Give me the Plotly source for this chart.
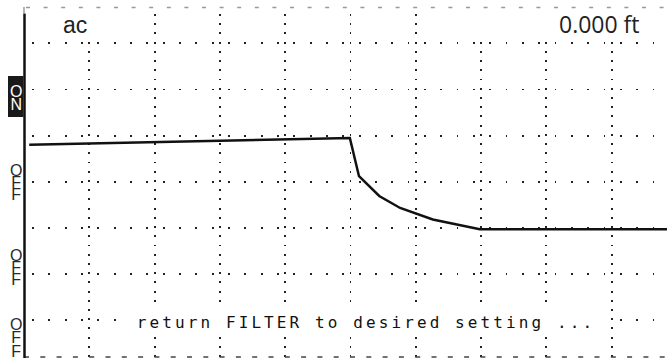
import plotly.graph_objects as go

# ---- data ----
x_div = [0.08, 4.99, 5.13, 5.44, 5.76, 6.26, 6.98, 9.85]
y_div = [3.80, 3.95, 3.12, 2.69, 2.43, 2.18, 1.97, 1.97]
x_grid = [1, 2, 3, 4, 5, 6, 7, 8, 9]
y_grid = [0, 1, 2, 3, 4, 5, 6]
corner_left = "ac"
corner_right = "0.000 ft"
message = "return FILTER to desired setting ..."
side_labels = ["ON", "OFF", "OFF", "OFF"]

# ---- layout geometry (pixels) ----
W, H = 667, 360
L, R, T, B = 24, 0, 7, 2
PW, PH = W - L - R, H - T - B
DIV_X = 65.3
DIV_Y = 46.1
ROW0 = 320.0


def px_x(p):
    return (p - L) / PW


def px_y(p):
    return (H - B - p) / PH


fig = go.Figure()
fig.add_trace(go.Scatter(
    x=x_div, y=y_div, mode="lines",
    line=dict(color="#111111", width=2.5),
    hoverinfo="skip", showlegend=False,
))

shapes = []
# white fields behind the header texts (hide grid there)
shapes.append(dict(type="rect", xref="paper", yref="paper", layer="above",
                   x0=px_x(30), x1=px_x(100), y0=px_y(9.5), y1=px_y(39),
                   line=dict(width=0), fillcolor="#ffffff"))
shapes.append(dict(type="rect", xref="paper", yref="paper", layer="above",
                   x0=px_x(470), x1=1.0, y0=px_y(9.5), y1=px_y(39),
                   line=dict(width=0), fillcolor="#ffffff"))
# top dashed border
shapes.append(dict(type="line", xref="paper", yref="paper",
                   x0=px_x(26), x1=1.0, y0=px_y(7.5), y1=px_y(7.5),
                   line=dict(color="#999999", width=1.4, dash="4px,13.6px")))
# bottom dashed border
shapes.append(dict(type="line", xref="paper", yref="paper",
                   x0=px_x(24), x1=1.0, y0=px_y(357), y1=px_y(357),
                   line=dict(color="#444444", width=1.4, dash="5px,11.3px")))
# left axis
shapes.append(dict(type="line", xref="paper", yref="paper",
                   x0=px_x(24.5), x1=px_x(24.5), y0=px_y(13.5), y1=px_y(358),
                   line=dict(color="#111111", width=2.5)))
shapes.append(dict(type="line", xref="paper", yref="paper",
                   x0=px_x(24), x1=px_x(24), y0=px_y(7), y1=px_y(13.5),
                   line=dict(color="#999999", width=1.5)))
# ON box
shapes.append(dict(type="rect", xref="paper", yref="paper",
                   x0=px_x(8), x1=px_x(23.5), y0=px_y(76), y1=px_y(117),
                   line=dict(width=0), fillcolor="#1a1a1a"))

annotations = []
# side labels: letters stacked vertically, tight line spacing
label_mid = [97.5, 181.5, 267, 337.5]
label_step = [13.0, 12.2, 12.0, 13.3]
for lab, cy, step in zip(side_labels, label_mid, label_step):
    col = "#ffffff" if lab == "ON" else "#2a2a2a"
    txt = "<br>".join('<span style="font-size:16px">' + ch + "</span>" for ch in lab)
    annotations.append(dict(
        text=txt, xref="paper", yref="paper", x=px_x(15.5), y=px_y(cy + 0.5),
        xanchor="center", yanchor="middle", showarrow=False,
        font=dict(family="Liberation Sans Narrow, Liberation Sans, Arial",
                  size=step / 1.3, color=col),
        borderpad=0, borderwidth=0,
    ))

annotations.append(dict(
    text=corner_left, xref="paper", yref="paper", x=px_x(61), y=px_y(24.5),
    xanchor="left", yanchor="middle", showarrow=False,
    font=dict(family="Liberation Sans, Arial", size=23, color="#222222"),
))
annotations.append(dict(
    text=corner_right, xref="paper", yref="paper", x=px_x(557), y=px_y(24),
    xanchor="left", yanchor="middle", showarrow=False,
    font=dict(family="Open Sans, Liberation Sans", size=23, color="#222222"),
))
annotations.append(dict(
    text='<span style="letter-spacing:3.1px">' + message + '</span>',
    xref="paper", yref="paper", x=px_x(366), y=px_y(322),
    xanchor="center", yanchor="middle", showarrow=False,
    width=478, height=28, bgcolor="#ffffff", borderpad=0,
    font=dict(family="DejaVu Sans Mono, Liberation Mono, monospace", size=16, color="#111111"),
))

fig.update_layout(
    width=W, height=H,
    margin=dict(l=L, r=R, t=T, b=B, pad=0),
    paper_bgcolor="#ffffff", plot_bgcolor="#ffffff",
    showlegend=False,
    shapes=shapes, annotations=annotations,
    xaxis=dict(range=[0, PW / DIV_X], tickvals=x_grid, showticklabels=False,
               ticks="", showgrid=True, gridcolor="#222222", gridwidth=1.9,
               griddash="0px,7px,1.9px,0.32px", zeroline=False, showline=False,
               fixedrange=True),
    yaxis=dict(range=[(ROW0 - (H - B)) / DIV_Y, (ROW0 - T) / DIV_Y], tickvals=y_grid,
               showticklabels=False, ticks="", showgrid=True, gridcolor="#222222",
               gridwidth=1.9, griddash="0px,8px,1.9px,6.43px", zeroline=False,
               showline=False, fixedrange=True),
)

fig.write_html(
    "out.html",
    config={"displayModeBar": False, "staticPlot": True},
    post_script="document.body.style.margin='0';document.body.style.overflow='hidden';",
)
